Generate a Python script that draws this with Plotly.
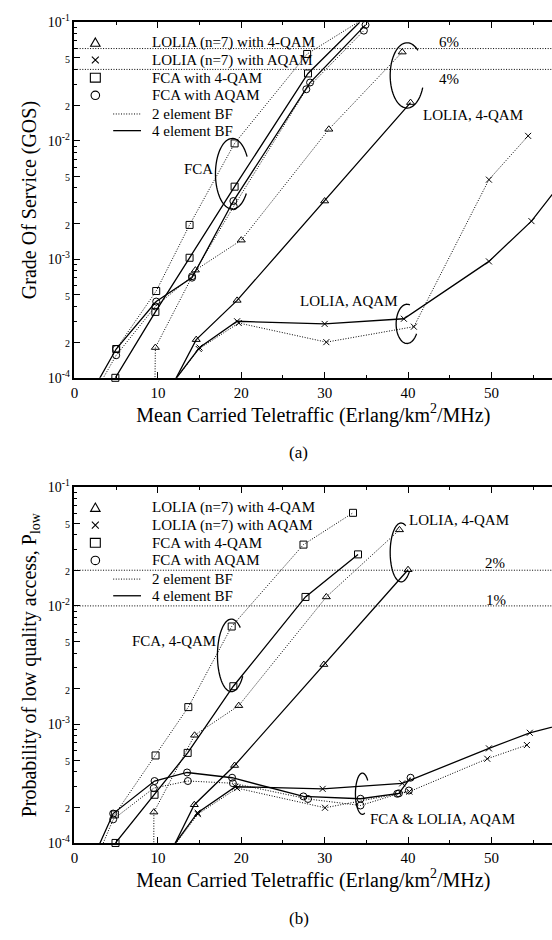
import math
import plotly.graph_objects as go

W, H = 552, 940
FONT = "Liberation Serif, Times New Roman, serif"
DOT = "1px,1.6px"

# ---------------- data: (a) Grade Of Service ----------------
a_fca_4qam_2bf_x = [5.0, 9.8, 13.8, 19.2, 27.9, 34.0]
a_fca_4qam_2bf_y = [1.75e-4, 5.4e-4, 1.95e-3, 9.5e-3, 5.4e-2, 1.0e-1]
a_fca_4qam_4bf_x = [4.9, 9.7, 13.8, 19.2, 28.0, 34.2]
a_fca_4qam_4bf_y = [1.0e-4, 3.6e-4, 1.03e-3, 4.1e-3, 3.7e-2, 1.0e-1]
a_fca_aqam_2bf_x = [2.0, 5.0, 9.7, 14.1, 19.1, 27.8, 34.7]
a_fca_aqam_2bf_y = [6.6e-5, 1.55e-4, 4.0e-4, 7.2e-4, 2.8e-3, 2.72e-2, 8.5e-2]
a_fca_aqam_4bf_x = [2.0, 5.0, 9.8, 14.1, 19.05, 28.25, 34.9]
a_fca_aqam_4bf_y = [7.4e-5, 1.75e-4, 4.4e-4, 7.0e-4, 3.1e-3, 3.1e-2, 9.5e-2]
a_lolia_4qam_2bf_x = [9.6, 9.7, 14.5, 20.0, 30.5, 39.3]
a_lolia_4qam_2bf_y = [5e-5, 1.8e-4, 8.1e-4, 1.45e-3, 1.25e-2, 5.6e-2]
a_lolia_4qam_4bf_x = [11.0, 14.6, 19.5, 30.0, 40.3]
a_lolia_4qam_4bf_y = [6.9e-5, 2.1e-4, 4.5e-4, 3.1e-3, 2.1e-2]
a_lolia_aqam_2bf_x = [11.0, 14.9, 19.7, 30.2, 40.7, 49.7, 54.4]
a_lolia_aqam_2bf_y = [7.6e-5, 1.75e-4, 2.9e-4, 2.0e-4, 2.7e-4, 4.7e-3, 1.1e-2]
a_lolia_aqam_4bf_x = [11.0, 15.0, 19.5, 30.0, 39.5, 49.7, 54.8, 60.0]
a_lolia_aqam_4bf_y = [7.7e-5, 1.8e-4, 3.0e-4, 2.85e-4, 3.15e-4, 9.6e-4, 2.1e-3, 6.2e-3]
a_thresholds = [0.06, 0.04]
a_threshold_labels = ["6%", "4%"]

# ---------------- data: (b) Probability of low quality access ----------------
b_fca_4qam_2bf_x = [4.84, 9.72, 13.65, 18.85, 27.46, 33.4]
b_fca_4qam_2bf_y = [1.74e-4, 5.47e-4, 1.4e-3, 6.7e-3, 3.29e-2, 6.1e-2]
b_fca_4qam_4bf_x = [4.92, 9.6, 13.57, 19.05, 27.7, 34.0]
b_fca_4qam_4bf_y = [1.0e-4, 2.55e-4, 5.75e-4, 2.1e-3, 1.19e-2, 2.72e-2]
b_fca_aqam_2bf_x = [2.0, 4.64, 9.5, 13.6, 19.0, 28.0, 34.3, 38.7, 40.1]
b_fca_aqam_2bf_y = [5.7e-5, 1.58e-4, 2.9e-4, 3.33e-4, 3.19e-4, 2.35e-4, 2.07e-4, 2.6e-4, 2.77e-4]
b_fca_aqam_4bf_x = [2.0, 4.64, 9.6, 13.5, 18.9, 27.45, 34.3, 38.9, 40.3]
b_fca_aqam_4bf_y = [6.8e-5, 1.77e-4, 3.33e-4, 3.93e-4, 3.55e-4, 2.47e-4, 2.36e-4, 2.62e-4, 3.55e-4]
b_lolia_4qam_2bf_x = [9.5, 9.52, 14.4, 19.7, 30.2, 38.97]
b_lolia_4qam_2bf_y = [5e-5, 1.82e-4, 8.1e-4, 1.44e-3, 1.19e-2, 4.38e-2]
b_lolia_4qam_4bf_x = [11.0, 14.37, 19.2, 29.9, 40.0]
b_lolia_4qam_4bf_y = [7.0e-5, 2.1e-4, 4.5e-4, 3.2e-3, 2.02e-2]
b_lolia_aqam_2bf_x = [11.0, 14.8, 19.5, 30.04, 40.16, 49.5, 54.25]
b_lolia_aqam_2bf_y = [7.7e-5, 1.75e-4, 2.9e-4, 1.98e-4, 2.71e-4, 5.13e-4, 6.7e-4]
b_lolia_aqam_4bf_x = [11.0, 14.76, 19.3, 29.76, 39.3, 49.7, 54.6, 60.0]
b_lolia_aqam_4bf_y = [7.8e-5, 1.8e-4, 2.98e-4, 2.86e-4, 3.18e-4, 6.28e-4, 8.5e-4, 1.06e-3]
b_thresholds = [0.02, 0.01]
b_threshold_labels = ["2%", "1%"]

# ---------------- ticks / labels ----------------
x_tick_vals = [0, 10, 20, 30, 40, 50]
x_tick_text = ["0", "10", "20", "30", "40", "50"]
y_tick_vals = [1e-4, 2e-4, 5e-4, 1e-3, 2e-3, 5e-3, 1e-2, 2e-2, 5e-2, 1e-1]
y_tick_text = ["10<sup>-4</sup>", "2", "5", "10<sup>-3</sup>", "2", "5",
               "10<sup>-2</sup>", "2", "5", "10<sup>-1</sup>"]
y_minor_vals = [m * 10.0 ** e for e in (-4, -3, -2) for m in (3, 4, 6, 7, 8, 9)]
legend_labels = ["LOLIA (n=7) with 4-QAM", "LOLIA (n=7) with AQAM", "FCA with 4-QAM",
                 "FCA with AQAM", "2 element BF", "4 element BF"]
x_title = "Mean Carried Teletraffic (Erlang/km<sup>2</sup>/MHz)"
a_y_title = "Grade Of Service (GOS)"
b_y_title = "Probability of low quality access, P<sub>low</sub>"

# ---------------- layout geometry (pixels) ----------------
PLOT_L = 71
A_TOP, A_BOT = 12.5, 375.0
B_OFF = 474.2
B_TOP, B_BOT = A_TOP + B_OFF, A_BOT + B_OFF
X_MAX = (W - PLOT_L) / 8.4


def pxx(x):
    return x / W


def pxy(y):
    return 1 - y / H


def fmt_tick(s):
    if s.startswith("10"):
        return s
    return f"<span style='font-size:10px'>{s}</span>"


fig = go.Figure()

SYM = {"lolia4": "triangle-up-open", "loliaA": "x-thin-open",
       "fca4": "square-open", "fcaA": "circle-open"}


def add_series(x, y, sub, sym, dotted, clip=True):
    xa, ya = ("x", "y") if sub == "a" else ("x2", "y2")
    fig.add_trace(go.Scatter(
        x=x, y=y, xaxis=xa, yaxis=ya, mode="lines+markers",
        line=dict(color="black", width=1.0 if dotted else 1.3, dash=DOT if dotted else "solid"),
        marker=dict(symbol=SYM[sym], size=6 if sym == "loliaA" else 7, color="black",
                    line=dict(color="black", width=1)),
        cliponaxis=clip, showlegend=False, hoverinfo="skip"))


for sub, t_list in (("a", a_thresholds), ("b", b_thresholds)):
    xa, ya = ("x", "y") if sub == "a" else ("x2", "y2")
    for t in t_list:
        fig.add_trace(go.Scatter(x=[0, X_MAX], y=[t, t], xaxis=xa, yaxis=ya, mode="lines",
                                 line=dict(color="black", width=1, dash=DOT),
                                 showlegend=False, hoverinfo="skip"))

add_series(a_fca_4qam_2bf_x, a_fca_4qam_2bf_y, "a", "fca4", True, clip=False)
add_series(a_fca_4qam_4bf_x, a_fca_4qam_4bf_y, "a", "fca4", False, clip=False)
add_series(a_fca_aqam_2bf_x, a_fca_aqam_2bf_y, "a", "fcaA", True)
add_series(a_fca_aqam_4bf_x, a_fca_aqam_4bf_y, "a", "fcaA", False)
add_series(a_lolia_4qam_2bf_x, a_lolia_4qam_2bf_y, "a", "lolia4", True)
add_series(a_lolia_4qam_4bf_x, a_lolia_4qam_4bf_y, "a", "lolia4", False)
add_series(a_lolia_aqam_2bf_x, a_lolia_aqam_2bf_y, "a", "loliaA", True)
add_series(a_lolia_aqam_4bf_x, a_lolia_aqam_4bf_y, "a", "loliaA", False)

add_series(b_fca_4qam_2bf_x, b_fca_4qam_2bf_y, "b", "fca4", True)
add_series(b_fca_4qam_4bf_x, b_fca_4qam_4bf_y, "b", "fca4", False, clip=False)
add_series(b_fca_aqam_2bf_x, b_fca_aqam_2bf_y, "b", "fcaA", True)
add_series(b_fca_aqam_4bf_x, b_fca_aqam_4bf_y, "b", "fcaA", False)
add_series(b_lolia_4qam_2bf_x, b_lolia_4qam_2bf_y, "b", "lolia4", True)
add_series(b_lolia_4qam_4bf_x, b_lolia_4qam_4bf_y, "b", "lolia4", False)
add_series(b_lolia_aqam_2bf_x, b_lolia_aqam_2bf_y, "b", "loliaA", True)
add_series(b_lolia_aqam_4bf_x, b_lolia_aqam_4bf_y, "b", "loliaA", False)

# ---------------- axes ----------------
def xaxis_cfg(anchor):
    return dict(type="linear", range=[0, X_MAX], domain=[PLOT_L / W, 1], anchor=anchor,
                tickvals=x_tick_vals, ticktext=x_tick_text, ticks="inside", ticklen=6,
                tickwidth=1, tickcolor="black", showline=True, linecolor="black", linewidth=1.5,
                mirror="ticks", showgrid=False, zeroline=False,
                tickfont=dict(family=FONT, size=15, color="black"),
                minor=dict(dtick=5, ticks="inside", ticklen=3, tickcolor="black", showgrid=False),
                title=dict(text=x_title, font=dict(family=FONT, size=20, color="black"), standoff=8))


def yaxis_cfg(anchor, top, bot, title):
    return dict(type="log", range=[-4, -1], domain=[pxy(bot), pxy(top)], anchor=anchor,
                tickvals=y_tick_vals, ticktext=[fmt_tick(s) for s in y_tick_text],
                ticks="inside", ticklen=6,
                tickwidth=1, tickcolor="black", showline=True, linecolor="black", linewidth=1.5,
                showgrid=False, zeroline=False,
                tickfont=dict(family=FONT, size=14, color="black"),
                minor=dict(tickvals=y_minor_vals, ticks="inside", ticklen=3, tickcolor="black",
                           showgrid=False),
                title=dict(text=title, font=dict(family=FONT, size=20, color="black"), standoff=6))


# ---------------- decorations: ellipse arcs, legend ----------------
shapes = []
annotations = []


def arc(cx, cy, rx, ry, a0, a1, n=60):
    pts = []
    for i in range(n + 1):
        a = math.radians(a0 + (a1 - a0) * i / n)
        pts.append((pxx(cx + rx * math.cos(a)), pxy(cy - ry * math.sin(a))))
    path = "M " + " L ".join(f"{x:.5f},{y:.5f}" for x, y in pts)
    shapes.append(dict(type="path", path=path, xref="paper", yref="paper",
                       line=dict(color="black", width=1.3)))


arc(230, 167, 17, 36, 29, 326)          # FCA (a)
arc(406, 66.7, 17, 33.3, 50, 338)       # LOLIA 4-QAM (a)
arc(406, 320, 11, 20, 75, 330)          # LOLIA AQAM (a)
arc(229, 658, 14, 37, 50, 325)          # FCA 4-QAM (b)
arc(400, 553, 11, 30, 65, 320)          # LOLIA 4-QAM (b)
arc(361, 799, 7, 21, 40, 290)           # FCA & LOLIA AQAM (b)


def text(x, y, s, size=15, anchor="center"):
    annotations.append(dict(x=pxx(x), y=pxy(y), xref="paper", yref="paper", text=s,
                            showarrow=False, xanchor=anchor, yanchor="middle",
                            font=dict(family=FONT, size=size, color="black")))


text(196, 162, "FCA")
text(472, 107, "LOLIA, 4-QAM")
text(348, 297, "LOLIA, AQAM")
text(448, 33, a_threshold_labels[0])
text(448, 70, a_threshold_labels[1])
text(171, 643, "FCA, 4-QAM")
text(458, 520, "LOLIA, 4-QAM")
text(495, 564, b_threshold_labels[0])
text(496, 602, b_threshold_labels[1])
text(442, 825, "FCA &amp; LOLIA, AQAM")
text(297, 451, "(a)", size=17)
text(297, 926, "(b)", size=17)

legend_rows = [33, 51, 69, 87, 106, 123]
for off in (0.0, B_OFF):
    r = [v + off for v in legend_rows]
    sx = 92
    y = r[0]
    shapes.append(dict(type="path", xref="paper", yref="paper",
                       path=f"M {pxx(sx):.5f},{pxy(y-4.5):.5f} L {pxx(sx+4.8):.5f},{pxy(y+4):.5f} "
                            f"L {pxx(sx-4.8):.5f},{pxy(y+4):.5f} Z",
                       line=dict(color="black", width=1.1)))
    y = r[1]
    shapes.append(dict(type="path", xref="paper", yref="paper",
                       path=f"M {pxx(sx-3.5):.5f},{pxy(y-3.5):.5f} L {pxx(sx+3.5):.5f},{pxy(y+3.5):.5f} "
                            f"M {pxx(sx-3.5):.5f},{pxy(y+3.5):.5f} L {pxx(sx+3.5):.5f},{pxy(y-3.5):.5f}",
                       line=dict(color="black", width=1.1)))
    y = r[2]
    shapes.append(dict(type="rect", xref="paper", yref="paper", x0=pxx(sx-5), x1=pxx(sx+5),
                       y0=pxy(y+4.5), y1=pxy(y-4.5), line=dict(color="black", width=1.1)))
    y = r[3]
    shapes.append(dict(type="circle", xref="paper", yref="paper", x0=pxx(sx-4.3), x1=pxx(sx+4.3),
                       y0=pxy(y+4.3), y1=pxy(y-4.3), line=dict(color="black", width=1.1)))
    for k, dash, wd in ((4, DOT, 1.0), (5, "solid", 1.3)):
        shapes.append(dict(type="line", xref="paper", yref="paper", x0=pxx(110), x1=pxx(138),
                           y0=pxy(r[k]), y1=pxy(r[k]), line=dict(color="black", width=wd, dash=dash)))
    for k, lab in enumerate(legend_labels):
        text(146.7, r[k], lab, anchor="left")

fig.update_layout(
    width=W, height=H, margin=dict(l=0, r=0, t=0, b=0),
    paper_bgcolor="white", plot_bgcolor="white",
    font=dict(family=FONT, color="black"),
    xaxis=xaxis_cfg("y"), yaxis=yaxis_cfg("x", A_TOP, A_BOT, a_y_title),
    xaxis2=xaxis_cfg("y2"), yaxis2=yaxis_cfg("x2", B_TOP, B_BOT, b_y_title),
    shapes=shapes, annotations=annotations, showlegend=False,
)

fig.write_html("out.html")
